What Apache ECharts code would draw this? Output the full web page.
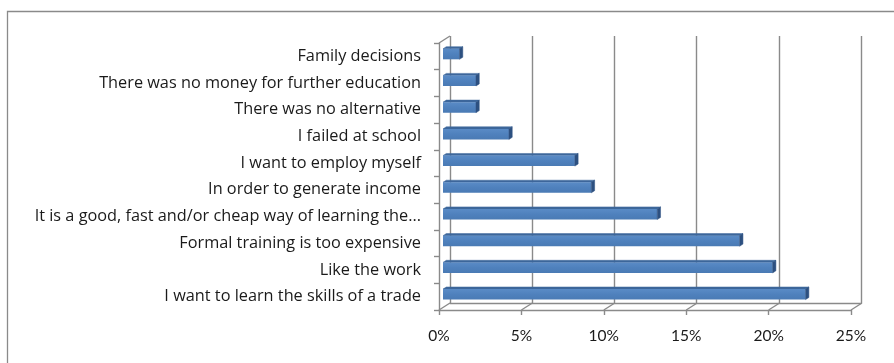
<!DOCTYPE html>
<html>
<head>
<meta charset="utf-8">
<script src="https://cdn.jsdelivr.net/npm/echarts@6/dist/echarts.min.js"></script>
<style>
  html, body { margin: 0; padding: 0; background: #fff; }
  #chart { width: 894px; height: 363px; }
</style>
</head>
<body>
<div id="chart"></div>
<script>
// Reasons given for choosing an apprenticeship (share of respondents, %)
const categories = [
  'Family decisions',
  'There was no money for further education',
  'There was no alternative',
  'I failed at school',
  'I want to employ myself',
  'In order to generate income',
  'It is a good, fast and/or cheap way of learning the...',
  'Formal training is too expensive',
  'Like the work',
  'I want to learn the skills of a trade'
];
const shares = [1, 2, 2, 4, 8, 9, 13, 18, 20, 22];
const tickValues = [0, 5, 10, 15, 20, 25];

const LABEL_FONT = '"Open Sans", "Noto Sans", sans-serif';
const TICK_FONT = 'Lato, "Liberation Sans", sans-serif';
const LINE = '#8a8a8a';
// depth of the 3D box (back wall offset from the front edge)
const DEPTH_X = 11, DEPTH_Y = -7;
// bars sit partway into the box and have a shallow depth of their own
const BAR_FX = 4, BAR_FY = -2.3, BAR_DX = 3.3, BAR_DY = -2.1;

const chart = echarts.init(document.getElementById('chart'), null, { renderer: 'canvas' });

function renderBar(params, api) {
  const idx = api.value(1);
  const v = api.value(0);
  const start = api.coord([0, idx]);
  const end = api.coord([v, idx]);
  const band = api.size([0, 1])[1];
  const h = band * 0.395;
  const x0 = start[0] + BAR_FX, x1 = end[0] + BAR_FX;
  const yT = start[1] + BAR_FY - h / 2, yB = yT + h;
  return {
    type: 'group',
    children: [
      { type: 'polygon', shape: { points: [[x0, yT], [x1, yT], [x1 + BAR_DX, yT + BAR_DY], [x0 + BAR_DX, yT + BAR_DY]] },
        style: { fill: '#3d679b', stroke: '#3d679b', lineWidth: 0.5 } },
      { type: 'rect', shape: { x: x0, y: yT, width: x1 - x0, height: h },
        style: { fill: new echarts.graphic.LinearGradient(0, 0, 0, 1, [
          { offset: 0, color: '#5a8bc6' }, { offset: 0.5, color: '#4f81bd' }, { offset: 1, color: '#4a7ab4' }
        ]) } },
      { type: 'polygon', shape: { points: [[x1, yT], [x1 + BAR_DX, yT + BAR_DY], [x1 + BAR_DX, yB + BAR_DY], [x1, yB]] },
        style: { fill: '#2d5080', stroke: '#2d5080', lineWidth: 0.5 } }
    ]
  };
}

function renderEdges(params, api) {
  const v = api.value(0);
  const cs = params.coordSys;
  const p = api.coord([v, 0]);
  const yBottom = cs.y + cs.height;
  const children = [
    { type: 'line', shape: { x1: p[0], y1: yBottom, x2: p[0] + DEPTH_X, y2: yBottom + DEPTH_Y },
      style: { stroke: LINE, lineWidth: 1.4 } }
  ];
  if (v === 0) {
    children.push({ type: 'line', shape: { x1: cs.x, y1: cs.y, x2: cs.x + DEPTH_X, y2: cs.y + DEPTH_Y },
      style: { stroke: LINE, lineWidth: 1.4 } });
  }
  return { type: 'group', children: children };
}

const option = {
  animation: false,
  backgroundColor: '#ffffff',
  graphic: [{
    type: 'rect', z: -10, silent: true,
    shape: { x: 7.5, y: 11.5, width: 1000, height: 500 },
    style: { fill: 'none', stroke: LINE, lineWidth: 1.3 }
  }],
  grid: [
    { left: 439, right: 43, top: 43, bottom: 53 },   // front edge of the box
    { left: 450, right: 33, top: 36, bottom: 60 }    // back wall
  ],
  xAxis: [
    {
      gridIndex: 0, type: 'value', min: 0, max: 25, interval: 5,
      axisLine: { show: true, lineStyle: { color: LINE, width: 1.4 } },
      axisTick: { show: true, length: 5, lineStyle: { color: LINE, width: 1.4 } },
      splitLine: { show: false },
      axisLabel: { formatter: '{value}%', margin: 18, color: '#1a1a1a', fontSize: 15.5, fontFamily: TICK_FONT }
    },
    {
      gridIndex: 1, type: 'value', min: 0, max: 25, interval: 5,
      axisLine: { show: true, lineStyle: { color: LINE, width: 1.4 } },
      axisTick: { show: false },
      axisLabel: { show: false },
      splitLine: { show: true, lineStyle: { color: LINE, width: 1.4 } }
    }
  ],
  yAxis: [
    {
      gridIndex: 0, type: 'category', data: categories, inverse: true,
      axisLine: { show: true, lineStyle: { color: LINE, width: 1.4 } },
      axisTick: { show: true, length: 5, lineStyle: { color: LINE, width: 1.4 } },
      axisLabel: { margin: 18, color: '#1a1a1a', fontSize: 16.3, fontFamily: LABEL_FONT }
    },
    {
      gridIndex: 1, type: 'category', data: categories, inverse: true,
      axisLine: { show: false }, axisTick: { show: false }, axisLabel: { show: false }, splitLine: { show: false }
    }
  ],
  series: [
    {
      type: 'custom', name: 'edges', xAxisIndex: 0, yAxisIndex: 0, z: 1, silent: true,
      renderItem: renderEdges,
      encode: { x: 0 },
      data: tickValues.map(function (t) { return [t]; })
    },
    {
      type: 'custom', name: 'Share', xAxisIndex: 0, yAxisIndex: 0, z: 5,
      renderItem: renderBar,
      encode: { x: 0, y: 1 },
      data: shares.map(function (v, i) { return [v, i]; })
    }
  ]
};
chart.setOption(option);
</script>
</body>
</html>
